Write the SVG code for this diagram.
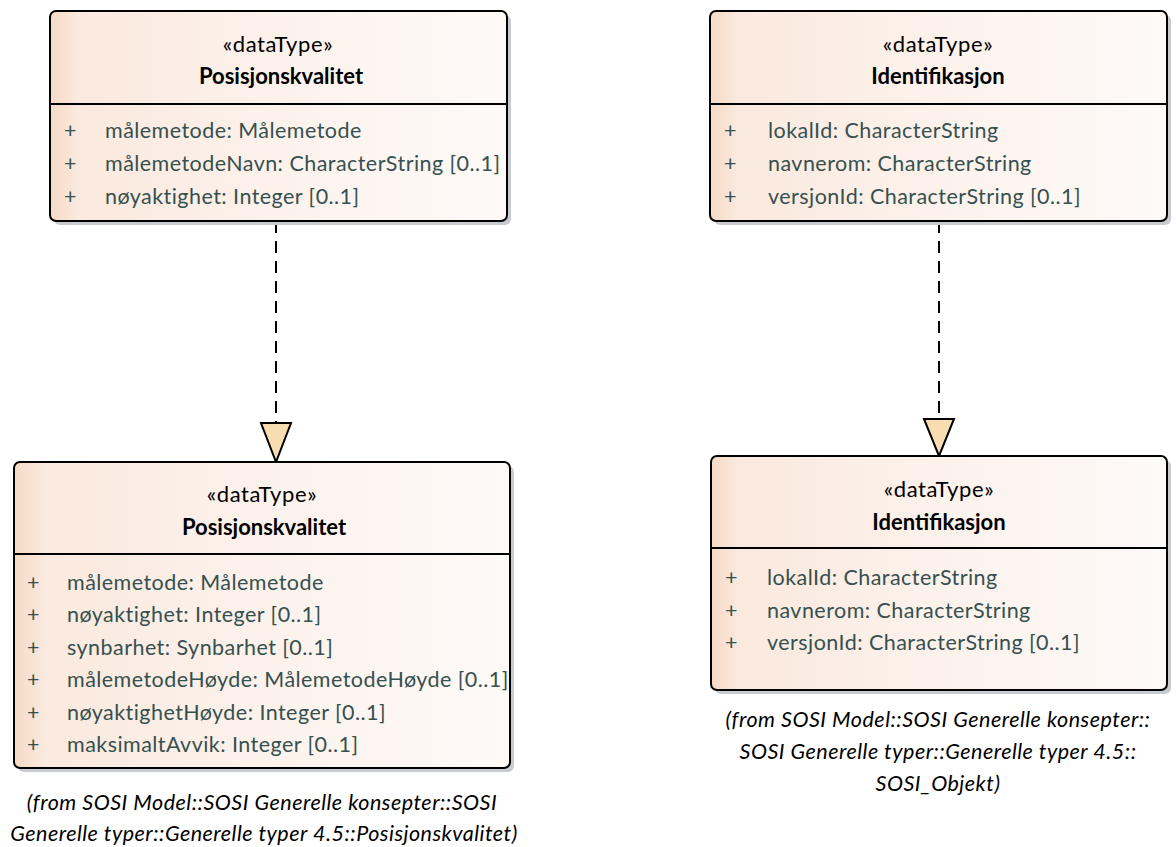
<svg xmlns="http://www.w3.org/2000/svg" width="1176" height="847" viewBox="0 0 1176 847">
<defs>
<linearGradient id="fill" x1="0" y1="0" x2="1" y2="0">
<stop offset="0" stop-color="#F6DAC5"/>
<stop offset="0.06" stop-color="#FAE9DE"/>
<stop offset="0.5" stop-color="#FCF2EC"/>
<stop offset="1" stop-color="#FEFAF8"/>
</linearGradient>
<style>
.box{fill:url(#fill);stroke:#000;stroke-width:2}
.shadow{fill:#C8CBD0}
.div{stroke:#000;stroke-width:2}
.st{font-family:Lato,"Liberation Sans",sans-serif;font-size:22px;letter-spacing:0.6px;fill:#000;text-anchor:middle}
.nm{font-family:Lato,"Liberation Sans",sans-serif;font-size:22px;font-weight:bold;fill:#000;text-anchor:middle}
.at{font-family:Lato,"Liberation Sans",sans-serif;font-size:21.5px;letter-spacing:0.45px;fill:#36504F}
.cap{font-family:Lato,"Liberation Sans",sans-serif;font-size:21.5px;letter-spacing:0.5px;font-style:italic;fill:#000;text-anchor:middle}
.con{stroke:#000;stroke-width:2;stroke-dasharray:12,8;fill:none}
.tri{fill:#F8DDB0;stroke:#000;stroke-width:2;stroke-linejoin:miter}
</style>
</defs>
<g id="connectors">
<line class="con" x1="276" y1="221" x2="276" y2="423"/>
<polygon class="tri" points="261,423 291,423 276,462"/>
<line class="con" x1="939" y1="221" x2="939" y2="419"/>
<polygon class="tri" points="924,419 954,419 939,456"/>
</g>
<g id="node-posisjonskvalitet-top">
<rect class="shadow" x="54" y="15" width="457" height="210" rx="6"/>
<rect class="box" x="50" y="11" width="457" height="210" rx="6"/>
<line class="div" x1="50" y1="104" x2="507" y2="104"/>
<text class="st" x="278" y="52">«dataType»</text>
<text class="nm" x="281" y="84">Posisjonskvalitet</text>
<text class="at" x="64" y="138">+</text><text class="at" x="105" y="138">målemetode: Målemetode</text>
<text class="at" x="64" y="171">+</text><text class="at" x="105" y="171">målemetodeNavn: CharacterString [0..1]</text>
<text class="at" x="64" y="204">+</text><text class="at" x="105" y="204">nøyaktighet: Integer [0..1]</text>
</g>
<g id="node-identifikasjon-top">
<rect class="shadow" x="714" y="15" width="457" height="210" rx="6"/>
<rect class="box" x="710" y="11" width="457" height="210" rx="6"/>
<line class="div" x1="710" y1="104" x2="1167" y2="104"/>
<text class="st" x="938" y="52">«dataType»</text>
<text class="nm" x="938" y="84">Identifikasjon</text>
<text class="at" x="724" y="138">+</text><text class="at" x="768" y="138">lokalId: CharacterString</text>
<text class="at" x="724" y="171">+</text><text class="at" x="768" y="171">navnerom: CharacterString</text>
<text class="at" x="724" y="204">+</text><text class="at" x="768" y="204">versjonId: CharacterString [0..1]</text>
</g>
<g id="node-posisjonskvalitet-bottom">
<rect class="shadow" x="18" y="466" width="496" height="306" rx="6"/>
<rect class="box" x="14" y="462" width="496" height="306" rx="6"/>
<line class="div" x1="14" y1="554" x2="510" y2="554"/>
<text class="st" x="262" y="502">«dataType»</text>
<text class="nm" x="264" y="535">Posisjonskvalitet</text>
<text class="at" x="27" y="590">+</text><text class="at" x="67" y="590">målemetode: Målemetode</text>
<text class="at" x="27" y="622">+</text><text class="at" x="67" y="622">nøyaktighet: Integer [0..1]</text>
<text class="at" x="27" y="655">+</text><text class="at" x="67" y="655">synbarhet: Synbarhet [0..1]</text>
<text class="at" x="27" y="687">+</text><text class="at" x="67" y="687">målemetodeHøyde: MålemetodeHøyde [0..1]</text>
<text class="at" x="27" y="720">+</text><text class="at" x="67" y="720">nøyaktighetHøyde: Integer [0..1]</text>
<text class="at" x="27" y="752">+</text><text class="at" x="67" y="752">maksimaltAvvik: Integer [0..1]</text>
<text class="cap" x="262" y="810">(from SOSI Model::SOSI Generelle konsepter::SOSI</text>
<text class="cap" x="264" y="841">Generelle typer::Generelle typer 4.5::Posisjonskvalitet)</text>
</g>
<g id="node-identifikasjon-bottom">
<rect class="shadow" x="715" y="460" width="456" height="234" rx="6"/>
<rect class="box" x="711" y="456" width="456" height="234" rx="6"/>
<line class="div" x1="711" y1="548" x2="1167" y2="548"/>
<text class="st" x="939" y="497">«dataType»</text>
<text class="nm" x="939" y="530">Identifikasjon</text>
<text class="at" x="725" y="585">+</text><text class="at" x="767" y="585">lokalId: CharacterString</text>
<text class="at" x="725" y="618">+</text><text class="at" x="767" y="618">navnerom: CharacterString</text>
<text class="at" x="725" y="650">+</text><text class="at" x="767" y="650">versjonId: CharacterString [0..1]</text>
<text class="cap" x="938" y="727">(from SOSI Model::SOSI Generelle konsepter::</text>
<text class="cap" x="938" y="759">SOSI Generelle typer::Generelle typer 4.5::</text>
<text class="cap" x="938" y="791">SOSI_Objekt)</text>
</g>
</svg>
